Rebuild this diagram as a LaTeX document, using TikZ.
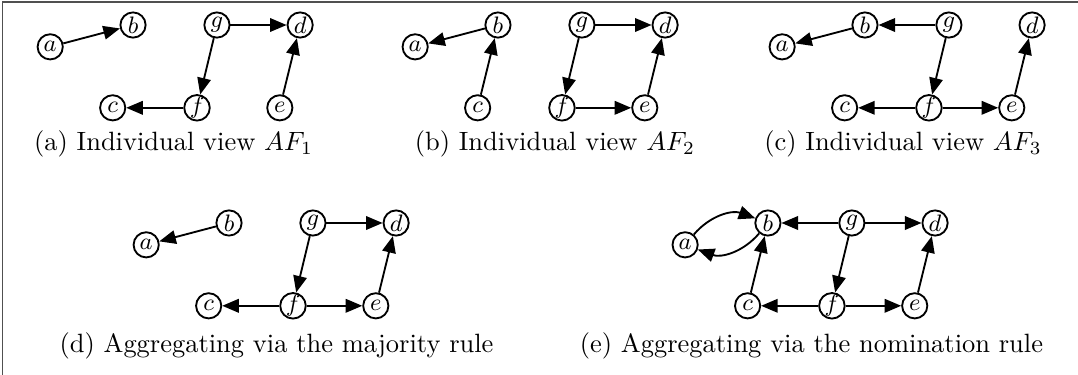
\documentclass[tikz,border=0pt]{standalone}
\usetikzlibrary{arrows.meta, positioning}
\definecolor{frameGray}{HTML}{505050}

\begin{document}
\begin{tikzpicture}[
    % Global Styles
    line width=0.7pt,
    % Node Styles
    arg/.style={
        circle,
        draw=black,
        fill=white,
        minimum size=0.335cm,
        inner sep=0pt,
        font=\small
    },
    caption/.style={
        anchor=base,
        inner sep=0pt
    },
    % Arrow Style
    attack/.style={
        -{Triangle[length=2.2mm, width=1.8mm]},
        draw=black,
        line width=0.7pt
    }
]

    % --- Frame ---
    \useasboundingbox (0,0) rectangle (14.32,-4.98);
    \draw[frameGray, line width=0.5pt] (0.035,-4.98) -- (0.035,-0.025) -- (14.32,-0.025);

    % --- (a) Individual view AF_1 ---
    \begin{scope}[shift={(1.767,-0.332)}]
        \node[arg] (a1) at (-1.1,-0.29) {$a$};
        \node[arg] (b1) at (0,0) {$b$};
        \node[arg] (g1) at (1.115,0) {$g$};
        \node[arg] (d1) at (2.22,0) {$d$};
        \node[arg] (c1) at (-0.27,-1.1) {$c$};
        \node[arg] (f1) at (0.85,-1.1) {$f$};
        \node[arg] (e1) at (1.95,-1.1) {$e$};

        \draw[attack] (a1) -- (b1);
        \draw[attack] (g1) -- (d1);
        \draw[attack] (g1) -- (f1);
        \draw[attack] (f1) -- (c1);
        \draw[attack] (e1) -- (d1);
    \end{scope}
    \node[caption] (capA) at (2.305,-2.0) {(a) Individual view $AF_1$};

    % --- (b) Individual view AF_2 ---
    \begin{scope}[shift={(6.615,-0.332)}]
        \node[arg] (a2) at (-1.1,-0.29) {$a$};
        \node[arg] (b2) at (0,0) {$b$};
        \node[arg] (g2) at (1.115,0) {$g$};
        \node[arg] (d2) at (2.22,0) {$d$};
        \node[arg] (c2) at (-0.27,-1.1) {$c$};
        \node[arg] (f2) at (0.85,-1.1) {$f$};
        \node[arg] (e2) at (1.95,-1.1) {$e$};

        \draw[attack] (b2) -- (a2);
        \draw[attack] (c2) -- (b2);
        \draw[attack] (g2) -- (d2);
        \draw[attack] (g2) -- (f2);
        \draw[attack] (f2) -- (e2);
        \draw[attack] (e2) -- (d2);
    \end{scope}
    \node[caption] (capB) at (7.372,-2.0) {(b) Individual view $AF_2$};

    % --- (c) Individual view AF_3 ---
    \begin{scope}[shift={(11.49,-0.332)}]
        \node[arg] (a3) at (-1.1,-0.29) {$a$};
        \node[arg] (b3) at (0,0) {$b$};
        \node[arg] (g3) at (1.115,0) {$g$};
        \node[arg] (d3) at (2.22,0) {$d$};
        \node[arg] (c3) at (-0.27,-1.1) {$c$};
        \node[arg] (f3) at (0.85,-1.1) {$f$};
        \node[arg] (e3) at (1.95,-1.1) {$e$};

        \draw[attack] (g3) -- (b3);
        \draw[attack] (b3) -- (a3);
        \draw[attack] (g3) -- (f3);
        \draw[attack] (f3) -- (c3);
        \draw[attack] (f3) -- (e3);
        \draw[attack] (e3) -- (d3);
    \end{scope}
    \node[caption] (capC) at (11.995,-2.0) {(c) Individual view $AF_3$};

    % --- (d) Majority rule ---
    \begin{scope}[shift={(3.042,-2.962)}]
        \node[arg] (a4) at (-1.1,-0.29) {$a$};
        \node[arg] (b4) at (0,0) {$b$};
        \node[arg] (g4) at (1.115,0) {$g$};
        \node[arg] (d4) at (2.22,0) {$d$};
        \node[arg] (c4) at (-0.27,-1.1) {$c$};
        \node[arg] (f4) at (0.85,-1.1) {$f$};
        \node[arg] (e4) at (1.95,-1.1) {$e$};

        \draw[attack] (b4) -- (a4);
        \draw[attack] (g4) -- (d4);
        \draw[attack] (g4) -- (f4);
        \draw[attack] (f4) -- (c4);
        \draw[attack] (f4) -- (e4);
        \draw[attack] (e4) -- (d4);
    \end{scope}
    \node[caption] (capD) at (3.673,-4.68) {(d) Aggregating via the majority rule};

    % --- (e) Nomination rule ---
    \begin{scope}[shift={(10.201,-2.962)}]
        \node[arg] (a5) at (-1.1,-0.29) {$a$};
        \node[arg] (b5) at (0,0) {$b$};
        \node[arg] (g5) at (1.115,0) {$g$};
        \node[arg] (d5) at (2.22,0) {$d$};
        \node[arg] (c5) at (-0.27,-1.1) {$c$};
        \node[arg] (f5) at (0.85,-1.1) {$f$};
        \node[arg] (e5) at (1.95,-1.1) {$e$};

        \draw[attack] (a5) to[bend left=35] (b5);
        \draw[attack] (b5) to[bend left=35] (a5);
        \draw[attack] (c5) -- (b5);
        \draw[attack] (g5) -- (b5);
        \draw[attack] (g5) -- (d5);
        \draw[attack] (g5) -- (f5);
        \draw[attack] (f5) -- (c5);
        \draw[attack] (f5) -- (e5);
        \draw[attack] (e5) -- (d5);
    \end{scope}
    \node[caption] (capE) at (10.779,-4.68) {(e) Aggregating via the nomination rule};

\end{tikzpicture}
\end{document}
